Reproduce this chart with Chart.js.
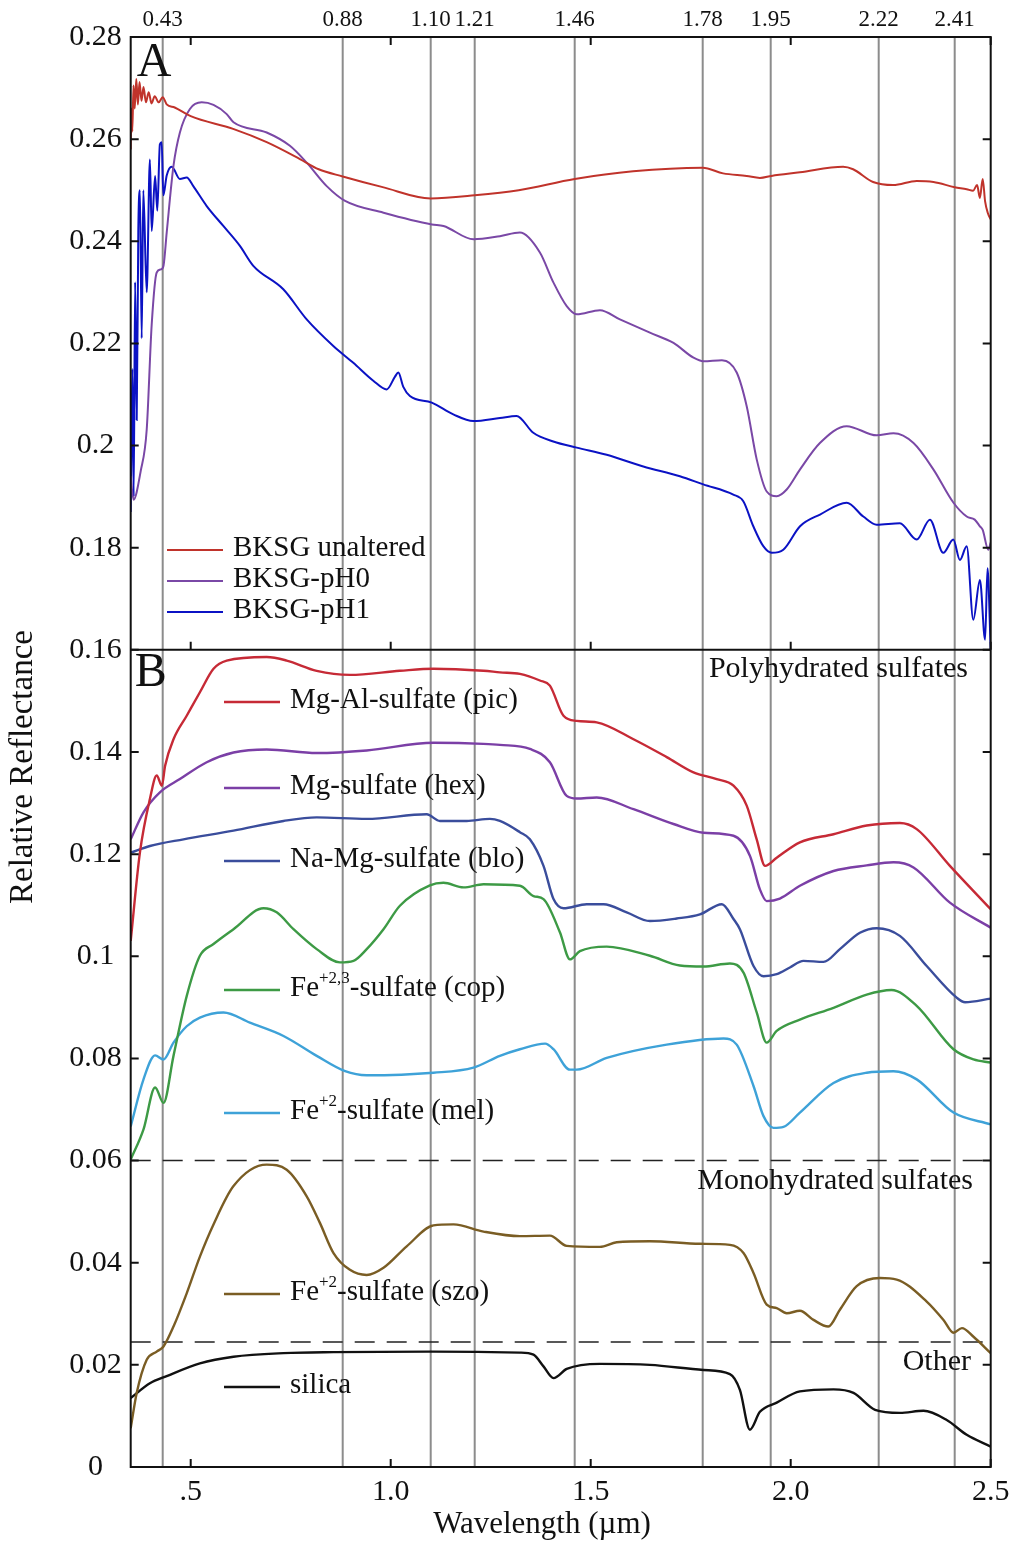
<!DOCTYPE html>
<html>
<head>
<meta charset="utf-8">
<script src="https://cdn.jsdelivr.net/npm/chart.js@4/dist/chart.umd.min.js"></script>
<style>
  html, body { margin: 0; padding: 0; background: #fff; }
  #wrap { position: relative; width: 1021px; height: 1542px; }
</style>
</head>
<body>
<div id="wrap"><canvas id="spectra" width="1021" height="1542"></canvas></div>
<script>
// wavelengths (µm) of the absorption bands marked across both panels
const bandLines = [0.43, 0.88, 1.10, 1.21, 1.46, 1.78, 1.95, 2.22, 2.41];
const xTickValues = [0.5, 1.0, 1.5, 2.0, 2.5];
// group boundaries in panel B
const groupLines = [0.06, 0.0245];

// Panel A - BKSG samples
const unalteredX = [0.350, 0.352, 0.354, 0.357, 0.360, 0.364, 0.368, 0.372, 0.377, 0.382, 0.388, 0.395, 0.402, 0.410, 0.420, 0.430, 0.440, 0.460, 0.500, 0.606, 0.690, 0.773, 0.820, 0.880, 0.980, 1.100, 1.210, 1.320, 1.460, 1.606, 1.780, 1.831, 1.890, 1.923, 1.952, 2.023, 2.131, 2.156, 2.206, 2.256, 2.315, 2.357, 2.410, 2.440, 2.456, 2.466, 2.473, 2.480, 2.486, 2.493, 2.500];
const unalteredY = [0.258, 0.266, 0.2615, 0.2705, 0.266, 0.2718, 0.2668, 0.2712, 0.2675, 0.2702, 0.2672, 0.2692, 0.267, 0.2684, 0.2672, 0.2682, 0.2668, 0.2662, 0.2645, 0.262, 0.2594, 0.2561, 0.2541, 0.2527, 0.2506, 0.2484, 0.249, 0.250, 0.2522, 0.2537, 0.2544, 0.2533, 0.2528, 0.2524, 0.2528, 0.2535, 0.2546, 0.2541, 0.2516, 0.251, 0.2518, 0.2516, 0.2506, 0.2502, 0.2499, 0.251, 0.2485, 0.2522, 0.2478, 0.2455, 0.2443];

const pH0X = [0.350, 0.357, 0.375, 0.390, 0.4025, 0.415, 0.426, 0.432, 0.440, 0.457, 0.473, 0.498, 0.5275, 0.557, 0.590, 0.607, 0.690, 0.748, 0.790, 0.840, 0.886, 0.982, 1.103, 1.132, 1.207, 1.273, 1.323, 1.373, 1.407, 1.440, 1.465, 1.523, 1.573, 1.648, 1.707, 1.757, 1.782, 1.828, 1.865, 1.890, 1.915, 1.940, 1.965, 1.990, 2.023, 2.073, 2.140, 2.215, 2.257, 2.307, 2.357, 2.407, 2.440, 2.460, 2.473, 2.480, 2.494, 2.500];
const pH0Y = [0.194, 0.1894, 0.195, 0.2031, 0.2237, 0.2339, 0.2345, 0.2352, 0.2417, 0.2548, 0.2613, 0.2659, 0.2672, 0.2667, 0.2649, 0.2633, 0.2613, 0.2587, 0.2554, 0.2508, 0.2479, 0.2456, 0.2433, 0.243, 0.2404, 0.241, 0.2417, 0.2378, 0.2319, 0.2273, 0.2257, 0.2265, 0.2247, 0.2221, 0.2201, 0.2172, 0.2165, 0.2167, 0.2143, 0.2077, 0.1973, 0.191, 0.1901, 0.1914, 0.1953, 0.2005, 0.2038, 0.202, 0.2024, 0.2005, 0.1953, 0.1888, 0.1861, 0.1855, 0.1842, 0.1835, 0.1796, 0.181];

const pH1X = [0.350, 0.354, 0.3575, 0.361, 0.365, 0.369, 0.373, 0.3775, 0.3815, 0.390, 0.398, 0.4025, 0.411, 0.4165, 0.423, 0.4275, 0.4315, 0.440, 0.4525, 0.473, 0.490, 0.5065, 0.540, 0.5815, 0.623, 0.6565, 0.7315, 0.790, 0.8565, 0.9065, 0.9565, 0.990, 1.0108, 1.019, 1.0315, 1.048, 1.1025, 1.1565, 1.2065, 1.273, 1.3145, 1.3565, 1.4065, 1.465, 1.540, 1.6315, 1.723, 1.7815, 1.8565, 1.8815, 1.9065, 1.9315, 1.9525, 1.9815, 2.0233, 2.0733, 2.140, 2.1815, 2.215, 2.273, 2.315, 2.348, 2.3815, 2.4065, 2.423, 2.440, 2.4565, 2.473, 2.486, 2.492, 2.500];
const pH1Y = [0.187, 0.215, 0.19, 0.232, 0.205, 0.242, 0.25, 0.221, 0.25, 0.23, 0.256, 0.242, 0.2528, 0.246, 0.259, 0.2594, 0.249, 0.2529, 0.2546, 0.2522, 0.2525, 0.2508, 0.2469, 0.243, 0.2391, 0.2352, 0.2306, 0.2247, 0.2195, 0.2162, 0.2127, 0.211, 0.2135, 0.2143, 0.2115, 0.2097, 0.2084, 0.2061, 0.2048, 0.2054, 0.2058, 0.2025, 0.2008, 0.1996, 0.1982, 0.1959, 0.194, 0.1924, 0.1904, 0.1891, 0.1842, 0.1803, 0.179, 0.1796, 0.1842, 0.1865, 0.1888, 0.1861, 0.1845, 0.1848, 0.1816, 0.1855, 0.179, 0.1816, 0.1776, 0.1803, 0.1659, 0.1737, 0.162, 0.176, 0.160];

// Panel B - sulfate references
const picX = [0.350, 0.373, 0.398, 0.415, 0.428, 0.436, 0.457, 0.490, 0.523, 0.557, 0.590, 0.690, 0.740, 0.815, 0.898, 1.023, 1.107, 1.232, 1.273, 1.323, 1.373, 1.398, 1.432, 1.465, 1.515, 1.607, 1.690, 1.757, 1.815, 1.857, 1.890, 1.915, 1.936, 1.965, 2.023, 2.107, 2.190, 2.273, 2.315, 2.398, 2.500];
const picY = [0.1030, 0.1203, 0.1308, 0.1354, 0.1334, 0.1373, 0.1425, 0.1471, 0.1517, 0.1563, 0.1579, 0.1586, 0.1579, 0.1559, 0.1551, 0.1559, 0.1563, 0.1559, 0.1556, 0.1553, 0.1540, 0.1530, 0.1471, 0.1461, 0.1458, 0.1425, 0.1390, 0.1360, 0.1347, 0.1334, 0.1295, 0.1229, 0.1177, 0.1193, 0.1223, 0.1239, 0.1256, 0.1261, 0.1249, 0.1177, 0.1092];

const hexX = [0.350, 0.382, 0.423, 0.473, 0.540, 0.607, 0.690, 0.815, 0.940, 1.107, 1.232, 1.273, 1.348, 1.398, 1.440, 1.465, 1.515, 1.607, 1.707, 1.782, 1.857, 1.898, 1.923, 1.940, 1.973, 2.023, 2.107, 2.190, 2.257, 2.307, 2.398, 2.500];
const hexY = [0.1229, 0.1282, 0.1321, 0.1347, 0.1380, 0.1399, 0.1405, 0.1398, 0.1403, 0.1418, 0.1416, 0.1414, 0.1406, 0.1380, 0.1314, 0.1309, 0.1311, 0.1288, 0.1259, 0.1242, 0.1236, 0.1197, 0.1131, 0.1108, 0.1113, 0.1138, 0.1167, 0.1178, 0.1184, 0.1174, 0.1105, 0.1056];

const bloX = [0.350, 0.398, 0.482, 0.607, 0.732, 0.815, 0.940, 1.090, 1.123, 1.190, 1.248, 1.273, 1.323, 1.348, 1.382, 1.407, 1.432, 1.490, 1.532, 1.590, 1.648, 1.715, 1.773, 1.828, 1.857, 1.873, 1.907, 1.932, 1.965, 1.998, 2.032, 2.082, 2.123, 2.173, 2.215, 2.273, 2.340, 2.415, 2.436, 2.500];
const bloY = [0.1203, 0.1216, 0.1229, 0.1246, 0.1265, 0.1272, 0.1269, 0.1278, 0.1265, 0.1265, 0.1269, 0.1265, 0.1243, 0.1229, 0.1177, 0.1112, 0.1094, 0.1102, 0.1102, 0.1086, 0.1069, 0.1074, 0.1082, 0.1102, 0.1073, 0.1053, 0.0981, 0.0961, 0.0965, 0.0978, 0.0991, 0.0989, 0.1014, 0.1046, 0.1055, 0.1040, 0.0981, 0.0919, 0.0910, 0.0917];

const copX = [0.350, 0.382, 0.411, 0.432, 0.457, 0.490, 0.523, 0.557, 0.607, 0.682, 0.715, 0.757, 0.815, 0.873, 0.907, 0.940, 0.982, 1.023, 1.098, 1.132, 1.182, 1.232, 1.323, 1.357, 1.382, 1.423, 1.448, 1.473, 1.540, 1.648, 1.723, 1.782, 1.848, 1.882, 1.915, 1.940, 1.965, 2.023, 2.107, 2.190, 2.252, 2.315, 2.407, 2.457, 2.500];
const copY = [0.0602, 0.0661, 0.0743, 0.0713, 0.0805, 0.0922, 0.1001, 0.1024, 0.1053, 0.1094, 0.1086, 0.1053, 0.1014, 0.0988, 0.0991, 0.1014, 0.1053, 0.1099, 0.1139, 0.1144, 0.1135, 0.1141, 0.1138, 0.1118, 0.1112, 0.1047, 0.0994, 0.1010, 0.1019, 0.1001, 0.0982, 0.0980, 0.0986, 0.0968, 0.0890, 0.0831, 0.0854, 0.0876, 0.0899, 0.0925, 0.0934, 0.0903, 0.0818, 0.0798, 0.0792];

const melX = [0.350, 0.382, 0.411, 0.432, 0.457, 0.490, 0.523, 0.582, 0.648, 0.732, 0.815, 0.886, 0.940, 1.107, 1.207, 1.273, 1.323, 1.386, 1.407, 1.448, 1.465, 1.540, 1.690, 1.832, 1.865, 1.907, 1.932, 1.957, 1.982, 2.023, 2.107, 2.190, 2.257, 2.315, 2.407, 2.500];
const melY = [0.0667, 0.0759, 0.0806, 0.0798, 0.0831, 0.0863, 0.0880, 0.0890, 0.0870, 0.0844, 0.0805, 0.0775, 0.0767, 0.0772, 0.0782, 0.0805, 0.0818, 0.0829, 0.0818, 0.0778, 0.0778, 0.0801, 0.0827, 0.0839, 0.0827, 0.0746, 0.0687, 0.0664, 0.0666, 0.0694, 0.0752, 0.0772, 0.0775, 0.0759, 0.0694, 0.0671];

const szoX = [0.350, 0.365, 0.390, 0.415, 0.432, 0.457, 0.490, 0.523, 0.557, 0.607, 0.690, 0.740, 0.790, 0.823, 0.857, 0.898, 0.940, 0.982, 1.040, 1.107, 1.157, 1.232, 1.323, 1.398, 1.440, 1.523, 1.565, 1.648, 1.773, 1.848, 1.882, 1.907, 1.940, 1.965, 1.990, 2.023, 2.057, 2.094, 2.123, 2.165, 2.223, 2.265, 2.340, 2.382, 2.407, 2.428, 2.457, 2.500];
const szoY = [0.0076, 0.0145, 0.0210, 0.0226, 0.0236, 0.0275, 0.0340, 0.0412, 0.0475, 0.0550, 0.0592, 0.0582, 0.0530, 0.0478, 0.0419, 0.0386, 0.0376, 0.0390, 0.0432, 0.0473, 0.0475, 0.0461, 0.0452, 0.0453, 0.0433, 0.0431, 0.0440, 0.0442, 0.0437, 0.0435, 0.0419, 0.0380, 0.0318, 0.0311, 0.0301, 0.0306, 0.0288, 0.0275, 0.0308, 0.0354, 0.0370, 0.0367, 0.0324, 0.0288, 0.0263, 0.0272, 0.0255, 0.0223];

const silicaX = [0.350, 0.398, 0.440, 0.523, 0.607, 0.732, 0.857, 1.107, 1.323, 1.357, 1.382, 1.407, 1.440, 1.523, 1.648, 1.782, 1.848, 1.873, 1.898, 1.923, 1.965, 2.023, 2.107, 2.157, 2.211, 2.273, 2.332, 2.390, 2.440, 2.500];
const silicaY = [0.0135, 0.0164, 0.0178, 0.0203, 0.0216, 0.0223, 0.0225, 0.0226, 0.0224, 0.0220, 0.0197, 0.0174, 0.0192, 0.0202, 0.0200, 0.0190, 0.0182, 0.0151, 0.0073, 0.0108, 0.0126, 0.0148, 0.0152, 0.0145, 0.0112, 0.0106, 0.0110, 0.0092, 0.0063, 0.0040];

const SERIF = '"Liberation Serif", "Times New Roman", serif';
const INK = '#111';

function pairs(xs, ys) {
    return xs.map((x, i) => ({ x: x, y: ys[i] }));
}

// series: [label, xs, ys, colour, axis]
const series = [
    ['BKSG unaltered', unalteredX, unalteredY, '#c0332b', 'yA'],
    ['BKSG-pH0', pH0X, pH0Y, '#7a48a6', 'yA'],
    ['BKSG-pH1', pH1X, pH1Y, '#0b12c4', 'yA'],
    ['Mg-Al-sulfate (pic)', picX, picY, '#c62a36', 'yB'],
    ['Mg-sulfate (hex)', hexX, hexY, '#7b3fa6', 'yB'],
    ['Na-Mg-sulfate (blo)', bloX, bloY, '#3a4d9c', 'yB'],
    ['Fe-sulfate (cop)', copX, copY, '#3d9a45', 'yB'],
    ['Fe-sulfate (mel)', melX, melY, '#3ea2d8', 'yB'],
    ['Fe-sulfate (szo)', szoX, szoY, '#7a5d24', 'yB'],
    ['silica', silicaX, silicaY, '#111111', 'yB']
];

const datasets = series.map(s => ({
    label: s[0],
    data: pairs(s[1], s[2]),
    borderColor: s[3],
    borderWidth: s[4] === 'yA' ? 2 : 2.4,
    yAxisID: s[4],
    xAxisID: 'x',
    pointRadius: 0,
    fill: false,
    cubicInterpolationMode: 'monotone'
}));

// draws a label made of pieces, some of them raised as superscripts
function drawRich(ctx, x, y, parts) {
    let cx = x;
    parts.forEach(p => {
        ctx.font = p.sup ? '17px ' + SERIF : '29px ' + SERIF;
        ctx.fillText(p.t, cx, p.sup ? y - 9 : y);
        cx += ctx.measureText(p.t).width;
    });
}

const framePlugin = {
    id: 'frame',
    beforeDatasetsDraw(chart) {
        const ctx = chart.ctx;
        const area = chart.chartArea;
        const xs = chart.scales.x;
        const yB = chart.scales.yB;
        ctx.save();
        // band markers
        ctx.strokeStyle = '#8c8c8c';
        ctx.lineWidth = 2;
        bandLines.forEach(v => {
            const px = xs.getPixelForValue(v);
            ctx.beginPath();
            ctx.moveTo(px, area.top);
            ctx.lineTo(px, area.bottom);
            ctx.stroke();
        });
        // group separators
        ctx.strokeStyle = '#222';
        ctx.lineWidth = 1.5;
        ctx.setLineDash([20, 12]);
        groupLines.forEach(v => {
            const py = yB.getPixelForValue(v);
            ctx.beginPath();
            ctx.moveTo(area.left, py);
            ctx.lineTo(area.right, py);
            ctx.stroke();
        });
        ctx.restore();
    },
    afterDraw(chart) {
        const ctx = chart.ctx;
        const area = chart.chartArea;
        const xs = chart.scales.x;
        const yA = chart.scales.yA;
        const yB = chart.scales.yB;
        const split = yA.bottom;
        ctx.save();
        ctx.strokeStyle = INK;
        ctx.lineWidth = 2;
        ctx.strokeRect(area.left, area.top, area.right - area.left, area.bottom - area.top);
        ctx.beginPath();
        ctx.moveTo(area.left, split);
        ctx.lineTo(area.right, split);
        ctx.stroke();

        // inward tick marks
        const tl = 8;
        ctx.beginPath();
        [yA, yB].forEach(sc => {
            sc.ticks.forEach(t => {
                const py = sc.getPixelForValue(t.value);
                ctx.moveTo(area.left, py);
                ctx.lineTo(area.left + tl, py);
                ctx.moveTo(area.right, py);
                ctx.lineTo(area.right - tl, py);
            });
        });
        xTickValues.forEach(v => {
            const px = xs.getPixelForValue(v);
            ctx.moveTo(px, area.top);
            ctx.lineTo(px, area.top + tl);
            ctx.moveTo(px, split);
            ctx.lineTo(px, split - tl);
            ctx.moveTo(px, area.bottom);
            ctx.lineTo(px, area.bottom - tl);
        });
        ctx.stroke();

        ctx.fillStyle = INK;
        ctx.textBaseline = 'middle';
        // panel letters
        ctx.font = '48px ' + SERIF;
        ctx.textAlign = 'left';
        ctx.fillText('A', area.left + 6, yA.top + 26);
        ctx.fillText('B', area.left + 4, yB.top + 24);

        // legend, panel A
        const legA = ['BKSG unaltered', 'BKSG-pH0', 'BKSG-pH1'];
        ctx.lineWidth = 2;
        legA.forEach((name, i) => {
            const py = 550 + i * 31;
            ctx.strokeStyle = series[i][3];
            ctx.beginPath();
            ctx.moveTo(167, py);
            ctx.lineTo(223, py);
            ctx.stroke();
            ctx.font = '29px ' + SERIF;
            ctx.fillText(name, 233, py - 2);
        });

        // legend, panel B (placed next to each curve)
        const legB = [
            [3, 702, [{ t: 'Mg-Al-sulfate (pic)' }]],
            [4, 788, [{ t: 'Mg-sulfate (hex)' }]],
            [5, 861, [{ t: 'Na-Mg-sulfate (blo)' }]],
            [6, 990, [{ t: 'Fe' }, { t: '+2,3', sup: true }, { t: '-sulfate (cop)' }]],
            [7, 1113, [{ t: 'Fe' }, { t: '+2', sup: true }, { t: '-sulfate (mel)' }]],
            [8, 1294, [{ t: 'Fe' }, { t: '+2', sup: true }, { t: '-sulfate (szo)' }]],
            [9, 1387, [{ t: 'silica' }]]
        ];
        ctx.lineWidth = 2.6;
        legB.forEach(row => {
            const py = row[1];
            ctx.strokeStyle = series[row[0]][3];
            ctx.beginPath();
            ctx.moveTo(224, py);
            ctx.lineTo(280, py);
            ctx.stroke();
            drawRich(ctx, 290, py - 2, row[2]);
        });

        // group names
        ctx.font = '30px ' + SERIF;
        ctx.textAlign = 'right';
        ctx.fillText('Polyhydrated sulfates', 968, 669);
        ctx.fillText('Monohydrated sulfates', 973, 1181);
        ctx.fillText('Other', 971, 1362);

        // axis titles
        ctx.textAlign = 'center';
        ctx.font = '31px ' + SERIF;
        ctx.fillText('Wavelength (\u00b5m)', 542, 1525);
        ctx.font = '33px ' + SERIF;
        ctx.translate(23, 767);
        ctx.rotate(-Math.PI / 2);
        ctx.fillText('Relative Reflectance', 0, 0);
        ctx.restore();
    }
};

const tickFont = { family: SERIF, size: 30 };
const noGrid = { display: false, drawTicks: false };

new Chart(document.getElementById('spectra'), {
    type: 'line',
    data: { datasets: datasets },
    options: {
        responsive: false,
        animation: false,
        events: [],
        layout: { padding: { left: 0, right: 30.3, top: 0, bottom: 0 } },
        plugins: { legend: { display: false }, tooltip: { enabled: false } },
        scales: {
            x: {
                type: 'linear', position: 'bottom', min: 0.35, max: 2.5,
                grid: noGrid, border: { display: false },
                afterBuildTicks: s => { s.ticks = xTickValues.map(v => ({ value: v })); },
                afterFit: s => { s.height = 75; },
                ticks: {
                    autoSkip: false, maxRotation: 0, minRotation: 0, padding: 7,
                    color: INK, font: tickFont,
                    callback: v => (v === 0.5 ? '.5' : v.toFixed(1))
                }
            },
            xTop: {
                type: 'linear', position: 'top', min: 0.35, max: 2.5,
                grid: noGrid, border: { display: false },
                afterBuildTicks: s => { s.ticks = bandLines.map(v => ({ value: v })); },
                afterFit: s => { s.height = 37; },
                ticks: {
                    autoSkip: false, maxRotation: 0, minRotation: 0, padding: 3,
                    color: INK, font: { family: SERIF, size: 23 },
                    callback: v => v.toFixed(2)
                }
            },
            yB: {
                type: 'linear', position: 'left', stack: 'panels', stackWeight: 4, weight: 0,
                min: 0, max: 0.16,
                grid: noGrid, border: { display: false },
                afterFit: s => { s.width = 130.7; },
                ticks: {
                    stepSize: 0.02, padding: 9, crossAlign: 'center', color: INK, font: tickFont,
                    callback: v => (v > 0.159 ? '' : String(Math.round(v * 100) / 100))
                }
            },
            yA: {
                type: 'linear', position: 'left', stack: 'panels', stackWeight: 3, weight: 1,
                min: 0.16, max: 0.28,
                grid: noGrid, border: { display: false },
                afterFit: s => { s.width = 130.7; },
                ticks: {
                    stepSize: 0.02, padding: 9, crossAlign: 'center', color: INK, font: tickFont,
                    callback: v => String(Math.round(v * 100) / 100)
                }
            }
        }
    },
    plugins: [framePlugin]
});
</script>
</body>
</html>
